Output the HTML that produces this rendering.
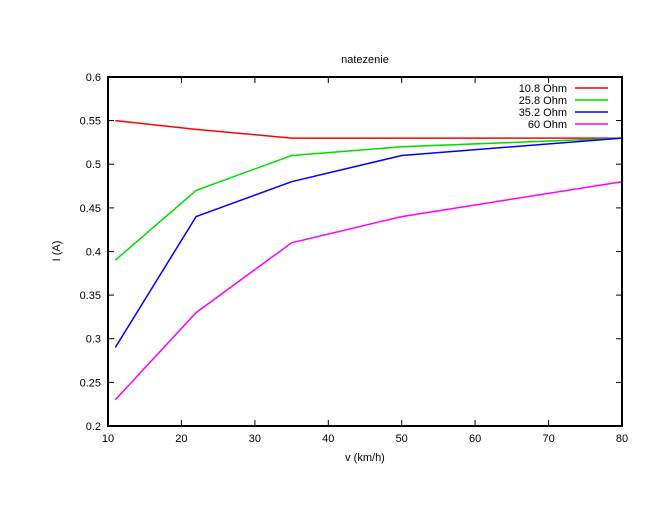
<!DOCTYPE html>
<html><head><style>body{margin:0;background:#fff}svg{display:block}text{font-family:"Liberation Sans",sans-serif;font-size:11px;fill:#000}</style></head>
<body>
<svg width="660" height="510" xmlns="http://www.w3.org/2000/svg">
<text x="365" y="63" text-anchor="middle">natezenie</text>
<g stroke="#000" stroke-width="1">
<line x1="108" y1="120.6" x2="114" y2="120.6"/><line x1="108" y1="164.2" x2="114" y2="164.2"/><line x1="108" y1="207.9" x2="114" y2="207.9"/><line x1="108" y1="251.5" x2="114" y2="251.5"/><line x1="108" y1="295.1" x2="114" y2="295.1"/><line x1="108" y1="338.7" x2="114" y2="338.7"/><line x1="108" y1="382.4" x2="114" y2="382.4"/>
<line x1="622" y1="120.6" x2="616" y2="120.6"/><line x1="622" y1="164.2" x2="616" y2="164.2"/><line x1="622" y1="207.9" x2="616" y2="207.9"/><line x1="622" y1="251.5" x2="616" y2="251.5"/><line x1="622" y1="295.1" x2="616" y2="295.1"/><line x1="622" y1="338.7" x2="616" y2="338.7"/><line x1="622" y1="382.4" x2="616" y2="382.4"/>
<line x1="181.4" y1="426" x2="181.4" y2="420"/><line x1="254.9" y1="426" x2="254.9" y2="420"/><line x1="328.3" y1="426" x2="328.3" y2="420"/><line x1="401.7" y1="426" x2="401.7" y2="420"/><line x1="475.1" y1="426" x2="475.1" y2="420"/><line x1="548.6" y1="426" x2="548.6" y2="420"/>
<line x1="181.4" y1="77" x2="181.4" y2="83"/><line x1="254.9" y1="77" x2="254.9" y2="83"/><line x1="328.3" y1="77" x2="328.3" y2="83"/><line x1="401.7" y1="77" x2="401.7" y2="83"/><line x1="475.1" y1="77" x2="475.1" y2="83"/><line x1="548.6" y1="77" x2="548.6" y2="83"/>
</g>
<g text-anchor="end">
<text x="101" y="81">0.6</text><text x="101" y="124.6">0.55</text><text x="101" y="168.2">0.5</text><text x="101" y="211.9">0.45</text><text x="101" y="255.5">0.4</text><text x="101" y="299.1">0.35</text><text x="101" y="342.7">0.3</text><text x="101" y="386.4">0.25</text><text x="101" y="430">0.2</text>
</g>
<g text-anchor="middle">
<text x="108" y="442">10</text><text x="181.4" y="442">20</text><text x="254.9" y="442">30</text><text x="328.3" y="442">40</text><text x="401.7" y="442">50</text><text x="475.1" y="442">60</text><text x="548.6" y="442">70</text><text x="622" y="442">80</text>
<text x="365" y="461">v (km/h)</text>
</g>
<text x="60" y="251" text-anchor="middle" transform="rotate(-90 60 251)">I (A)</text>
<g fill="none" stroke-width="1.5">
<polyline stroke="#f00" points="115.3,120.6 196.1,129.4 291.6,138.1 401.7,138.1 622,138.1"/>
<polyline stroke="#0d0" points="115.3,260.2 196.1,190.4 291.6,155.5 401.7,146.8 622,138.1"/>
<polyline stroke="#00f" points="115.3,347.5 196.1,216.6 291.6,181.7 401.7,155.5 622,138.1"/>
<polyline stroke="#f0f" points="115.3,399.8 196.1,312.6 291.6,242.8 401.7,216.6 622,181.7"/>
<line stroke="#f00" x1="575" y1="88" x2="608" y2="88"/>
<line stroke="#0d0" x1="575" y1="100" x2="608" y2="100"/>
<line stroke="#00f" x1="575" y1="112" x2="608" y2="112"/>
<line stroke="#f0f" x1="575" y1="124" x2="608" y2="124"/>
</g>
<g text-anchor="end">
<text x="567" y="92">10.8 Ohm</text><text x="567" y="104">25.8 Ohm</text><text x="567" y="116">35.2 Ohm</text><text x="567" y="128">60 Ohm</text>
</g>
<rect x="108" y="77" width="514" height="349" fill="none" stroke="#000" stroke-width="2"/>
</svg>
</body></html>
